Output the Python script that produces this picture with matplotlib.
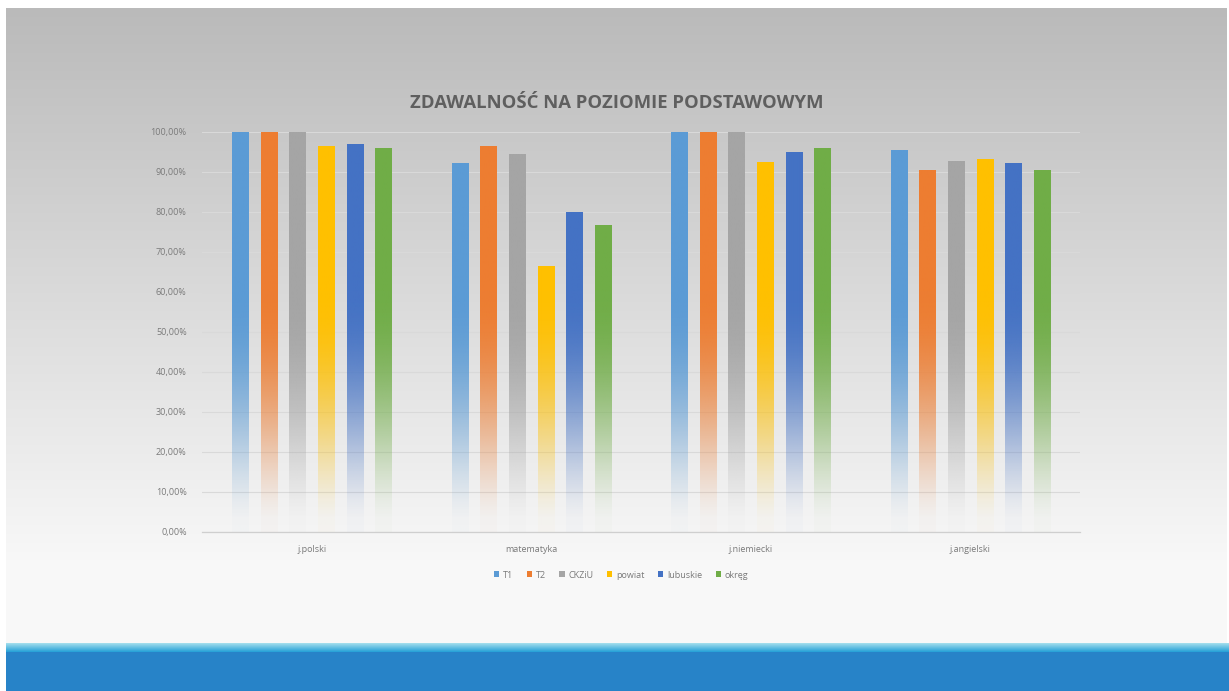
import numpy as np
import matplotlib
matplotlib.use('Agg')
import matplotlib.pyplot as plt
from matplotlib.patches import Patch
from matplotlib.ticker import FuncFormatter, MultipleLocator
from matplotlib.colors import to_rgb

plt.rcParams['font.family'] = ['Open Sans', 'DejaVu Sans']

# Data (percent)
categories = ['j.polski', 'matematyka', 'j.niemiecki', 'j.angielski']
series_names = ['T1', 'T2', 'CKZiU', 'powiat', 'lubuskie', 'okręg']
t1 = [99.9, 92.1, 99.9, 95.3]
t2 = [99.9, 96.3, 99.9, 90.4]
ckziu = [99.8, 94.4, 99.8, 92.6]
powiat = [96.4, 66.5, 92.3, 93.1]
lubuskie = [96.9, 79.9, 95.0, 92.1]
okreg = [95.9, 76.6, 95.9, 90.4]
series_values = [t1, t2, ckziu, powiat, lubuskie, okreg]
colors = ['#5B9BD5', '#ED7D31', '#A5A5A5', '#FFC000', '#4472C4', '#70AD47']

W, H = 1229, 691
fig = plt.figure(figsize=(W / 100, H / 100), dpi=100)

# --- slide background: grey-to-white gradient, white border, blue band ---
bg = np.ones((H, W, 3))
top, band_top = 8, 643
rows = np.arange(H)
t = np.clip((rows - top) / (560 - top), 0, 1)[:, None]
grey = (1 - t) * np.array(to_rgb('#bababa')) + t * np.array(to_rgb('#f8f8f8'))
bg[top:band_top, 6:W - 2] = grey[top:band_top][:, None, :]
stripe = np.linspace(0, 1, 9)[:, None]
bg[band_top:band_top + 9, 6:] = ((1 - stripe) * np.array(to_rgb('#9fdcec'))
                                 + stripe * np.array(to_rgb('#2aa3d8')))[:, None, :]
bg[band_top + 9:, 6:] = to_rgb('#2783c8')
bax = fig.add_axes([0, 0, 1, 1])
bax.imshow(bg, extent=[0, W, H, 0], aspect='auto', interpolation='bilinear')
bax.set_axis_off()

# --- chart ---
left, right, y0, y100 = 202, 1080, 532, 132
ax = fig.add_axes([left / W, 1 - y0 / H, (right - left) / W, (y0 - y100) / H])
ax.patch.set_alpha(0)

x = np.arange(len(categories))
step, bw = 0.13, 0.073
# fill fades out towards the axis, like the gradient fill in the original
grad_y = np.linspace(0, 100, 500)
alpha = np.sin(np.clip(grad_y / 60, 0, 1) * np.pi / 2) ** 1.6
alpha = np.clip(alpha, 0.02, 1)

for i, (name, vals, col) in enumerate(zip(series_names, series_values, colors)):
    pos = x + (i - 2.5) * step
    bars = ax.bar(pos, vals, width=bw, color='none', edgecolor='none', label=name, zorder=3)
    rgb = np.array(to_rgb(col))
    for b in bars:
        h = b.get_height()
        n = max(int(h * 4), 2)
        a = np.interp(np.linspace(h, 0, n), grad_y, alpha)
        img = np.zeros((n, 1, 4))
        img[:, 0, :3] = rgb
        img[:, 0, 3] = a
        ax.imshow(img, extent=[b.get_x(), b.get_x() + b.get_width(), 0, h],
                  aspect='auto', interpolation='bilinear', zorder=3)

ax.set_xlim(-0.5, len(categories) - 0.5)
ax.set_ylim(0, 100)
ax.yaxis.set_major_locator(MultipleLocator(10))
ax.yaxis.set_major_formatter(FuncFormatter(lambda v, p: ('%.2f%%' % v).replace('.', ',')))
ax.set_xticks(x)
ax.set_xticklabels(categories)
ax.grid(axis='y', color='#d9d9d9', linewidth=0.8, zorder=0)
ax.set_axisbelow(True)
for s in ['top', 'right', 'left']:
    ax.spines[s].set_visible(False)
ax.spines['bottom'].set_color('#cfcfcf')
ax.spines['bottom'].set_linewidth(0.9)
ax.tick_params(axis='both', length=0, labelsize=6.5, labelcolor='#7a7a7a')
ax.tick_params(axis='y', pad=11)
ax.tick_params(axis='x', pad=9)

fig.text(617 / W, 1 - 103 / H, 'ZDAWALNOŚĆ NA POZIOMIE PODSTAWOWYM', ha='center', va='center',
         fontsize=13.3, fontweight='bold', color='#5f5f5f')

handles = [Patch(facecolor=c, edgecolor='none') for c in colors]
fig.legend(handles, series_names, loc='center', bbox_to_anchor=(621 / W, 1 - 575 / H),
           ncol=6, frameon=False, fontsize=6.5, handlelength=0.6, handleheight=0.6,
           handletextpad=0.4, columnspacing=1.5, labelcolor='#7a7a7a')

fig.savefig('out.png', dpi=100)
